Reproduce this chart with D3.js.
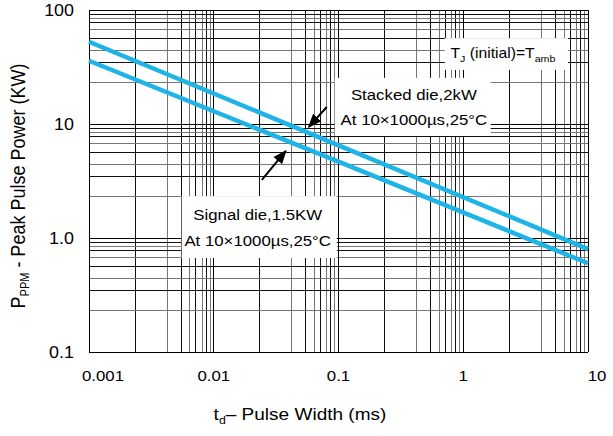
<!doctype html>
<html>
<head>
<meta charset="utf-8">
<script src="https://d3js.org/d3.v7.min.js"></script>
<style>
body { margin:0; background:#fff; }
text { font-family: "Liberation Sans", Arial, sans-serif; fill:#000; }
</style>
</head>
<body>
<script>
// ---- data ----
var xTicks = [0.001, 0.01, 0.1, 1, 10];
var xTickLabels = ['0.001', '0.01', '0.1', '1', '10'];
var yTicks = [0.1, 1, 10, 100];
var yTickLabels = ['0.1', '1.0', '10', '100'];
// the minor grid in the original is not a clean log grid, these are the steps inside each decade
var xMinorSteps = [2.34, 4.22, 5.48, 6.45, 7.19, 8.06, 8.69, 9.34];
var yMinorSteps = [2.3, 3.45, 4.45, 5.6, 6.7, 7.8, 8.5, 9.2];
var pulseWidth = [0.001, 0.1, 10];          // ms
var stackedDie = [52.7, 6.5, 0.80];         // kW
var signalDie = [35.9, 4.67, 0.60];         // kW

var W = 613, H = 436;
var SX = 1.12; // the source picture is a bit stretched sideways, text too
var svg = d3.select('body').append('svg').attr('width', W).attr('height', H);

var x = d3.scaleLog().domain([0.001, 10]).range([89, 588]);
var y = d3.scaleLog().domain([0.1, 100]).range([352, 10]);

function place(sel, px, py) {
	return sel.attr('transform', 'translate(' + px + ',' + py + ') scale(' + SX + ',1)');
}

/////////////// GRID ///////////////
var xMinor = [], yMinor = [];
xTicks.slice(0, -1).forEach(function(d) { xMinorSteps.forEach(function(s) { xMinor.push(d * s); }); });
yTicks.slice(0, -1).forEach(function(d) { yMinorSteps.forEach(function(s) { yMinor.push(d * s); }); });

var grid = svg.append('g').attr('shape-rendering', 'crispEdges');
grid.selectAll('.vmin').data(xMinor).enter().append('line')
	.attr('x1', function(d){return x(d);}).attr('x2', function(d){return x(d);})
	.attr('y1', y(100)).attr('y2', y(0.1))
	.attr('stroke', function(d, i){return i % 2 ? '#777' : '#111';});
grid.selectAll('.hmin').data(yMinor).enter().append('line')
	.attr('y1', function(d){return y(d);}).attr('y2', function(d){return y(d);})
	.attr('x1', x(0.001)).attr('x2', x(10))
	.attr('stroke', function(d, i){return i % 2 ? '#111' : '#777';});
grid.selectAll('.vmaj').data(xTicks).enter().append('line')
	.attr('x1', function(d){return x(d);}).attr('x2', function(d){return x(d);})
	.attr('y1', y(100)).attr('y2', y(0.1)).attr('stroke', '#000');
grid.selectAll('.hmaj').data(yTicks).enter().append('line')
	.attr('y1', function(d){return y(d);}).attr('y2', function(d){return y(d);})
	.attr('x1', x(0.001)).attr('x2', x(10)).attr('stroke', '#000');

/////////////// TICK LABELS ///////////////
svg.append('g').selectAll('text').data(yTicks).enter().append('text')
	.attr('transform', function(d){return 'translate(74,' + y(d) + ') scale(' + SX + ',1)';})
	.attr('dy', '0.35em').attr('text-anchor', 'end').style('font-size', '16px')
	.text(function(d, i){return yTickLabels[i];});

svg.append('g').selectAll('text').data(xTicks).enter().append('text')
	.attr('transform', function(d, i){
		var px = x(d) + (i == 0 ? 14 : (i == xTicks.length - 1 ? 9 : 0));
		return 'translate(' + px + ',376) scale(' + SX + ',1)';
	})
	.attr('dy', '0.35em').attr('text-anchor', 'middle').style('font-size', '15px')
	.text(function(d, i){return xTickLabels[i];});

/////////////// AXIS TITLES ///////////////
var xt = place(svg.append('text'), 300, 420).attr('text-anchor', 'middle').style('font-size', '17px');
xt.append('tspan').text('t');
xt.append('tspan').attr('dy', 4).style('font-size', '11px').text('d');
xt.append('tspan').attr('dy', -4).text('\u2013 Pulse Width (ms)');

var yt = svg.append('text').attr('transform', 'translate(25,186) scale(' + SX + ',1) rotate(-90)')
	.attr('text-anchor', 'middle').style('font-size', '18px');
yt.append('tspan').text('P');
yt.append('tspan').attr('dy', 4).style('font-size', '11px').text('PPM');
yt.append('tspan').attr('dy', -4).text(' - Peak Pulse Power (KW)');

/////////////// CURVES ///////////////
var line = d3.line().x(function(d){return x(d[0]);}).y(function(d){return y(d[1]);});
[stackedDie, signalDie].forEach(function(s) {
	svg.append('path').attr('d', line(pulseWidth.map(function(p, i){return [p, s[i]];})))
		.attr('fill', 'none').attr('stroke', '#1fb4e8').attr('stroke-width', 4.5);
});

/////////////// ANNOTATIONS ///////////////
svg.append('defs').append('marker').attr('id', 'ah').attr('viewBox', '0 0 10 10')
	.attr('refX', 9).attr('refY', 5).attr('markerWidth', 7).attr('markerHeight', 7)
	.attr('orient', 'auto').append('path').attr('d', 'M0,1 L10,5 L0,9 Z').attr('fill', '#000');

// boxes in data units: [xLeft, xRight, yTop, yBottom]
var boxes = [
	{b: [0.711, 6.9, 56.7, 29.8]},
	{b: [0.0933, 1.66, 25.4, 7.85]},
	{b: [0.00553, 0.0968, 2.33, 0.668]}
];
svg.append('g').selectAll('rect').data(boxes).enter().append('rect')
	.attr('x', function(d){return x(d.b[0]);}).attr('y', function(d){return y(d.b[2]);})
	.attr('width', function(d){return x(d.b[1]) - x(d.b[0]);})
	.attr('height', function(d){return y(d.b[3]) - y(d.b[2]);})
	.attr('fill', '#fff');

var tj = place(svg.append('text'), x(0.79), y(42)).attr('dy', '0.35em').style('font-size', '14px');
tj.append('tspan').text('T');
tj.append('tspan').attr('dy', 4).style('font-size', '9.5px').text('J');
tj.append('tspan').attr('dy', -4).text(' (initial)=T');
tj.append('tspan').attr('dy', 4).style('font-size', '9.5px').text('amb');

var notes = [
	{x: 0.402, y: [18.2, 10.9], t: ['Stacked die,2kW', 'At 10\u00d71000\u00b5s,25\u00b0C']},
	{x: 0.0225, y: [1.6, 0.95], t: ['Signal die,1.5KW', 'At 10\u00d71000\u00b5s,25\u00b0C']}
];
notes.forEach(function(n) {
	n.t.forEach(function(t, i) {
		place(svg.append('text'), x(n.x), y(n.y[i])).attr('dy', '0.35em')
			.attr('text-anchor', 'middle').style('font-size', '15px').text(t);
	});
});

var arrows = [
	{from: [0.0805, 14.1], to: [0.0578, 9.43]},
	{from: [0.0243, 3.23], to: [0.0378, 5.8]}
];
svg.append('g').selectAll('line').data(arrows).enter().append('line')
	.attr('x1', function(d){return x(d.from[0]);}).attr('y1', function(d){return y(d.from[1]);})
	.attr('x2', function(d){return x(d.to[0]);}).attr('y2', function(d){return y(d.to[1]);})
	.attr('stroke', '#000').attr('stroke-width', 2).attr('marker-end', 'url(#ah)');
</script>
</body>
</html>
